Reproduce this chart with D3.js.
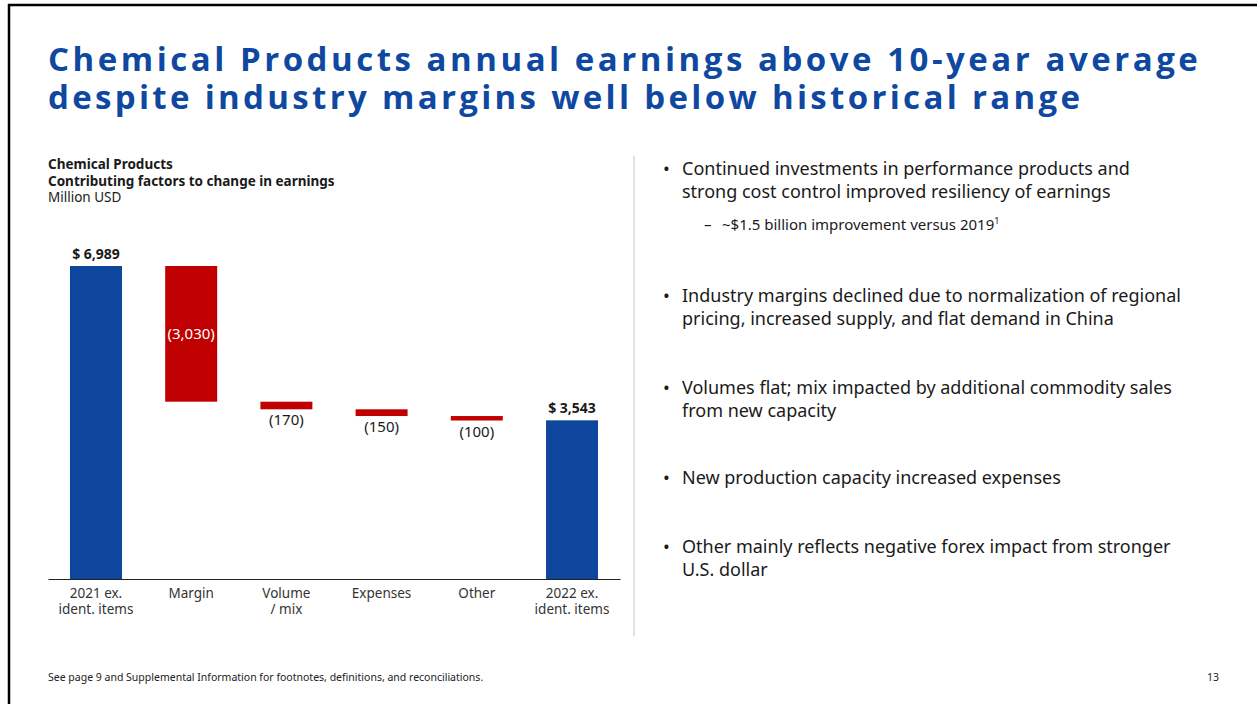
<!DOCTYPE html>
<html>
<head>
<meta charset="utf-8">
<script src="https://cdn.jsdelivr.net/npm/d3@7"></script>
<style>
  body { margin: 0; background: #fff; }
  svg { display: block; font-family: "Noto Sans", sans-serif; }
</style>
</head>
<body>
<div id="chart"></div>
<script>
// slide data
var categories = ["2021 ex.|ident. items", "Margin", "Volume|/ mix", "Expenses", "Other", "2022 ex.|ident. items"];
var kinds = ["total", "delta", "delta", "delta", "delta", "total"];
var values = [6989, -3030, -170, -150, -100, 3543];
var valueLabels = ["$ 6,989", "(3,030)", "(170)", "(150)", "(100)", "$ 3,543"];

var titleLines = ["Chemical Products annual earnings above 10-year average",
                  "despite industry margins well below historical range"];
var chartHeader = ["Chemical Products", "Contributing factors to change in earnings", "Million USD"];

var bullets = [
  {lines: ["Continued investments in performance products and", "strong cost control improved resiliency of earnings"], y: 175},
  {lines: ["Industry margins declined due to normalization of regional", "pricing, increased supply, and flat demand in China"], y: 302},
  {lines: ["Volumes flat; mix impacted by additional commodity sales", "from new capacity"], y: 394},
  {lines: ["New production capacity increased expenses"], y: 484},
  {lines: ["Other mainly reflects negative forex impact from stronger", "U.S. dollar"], y: 553}
];
var subBullet = {text: "~$1.5 billion improvement versus 2019", sup: "1", y: 230};
var footer = "See page 9 and Supplemental Information for footnotes, definitions, and reconciliations.";
var pageNum = "13";

var W = 1257, H = 704;
var BLUE = "#0D469C", RED = "#C00000", TITLE = "#0F48A0", TXT = "#1a1a1a";

var svg = d3.select("#chart").append("svg").attr("width", W).attr("height", H);

// slide frame (top and left edges)
svg.append("line").attr("x1", 8).attr("x2", W).attr("y1", 5).attr("y2", 5).attr("stroke", "#000").attr("stroke-width", 2.5);
svg.append("line").attr("x1", 9).attr("x2", 9).attr("y1", 4).attr("y2", H).attr("stroke", "#000").attr("stroke-width", 2.5);

// title, stretched with letter spacing to the slide width
titleLines.forEach(function (t, i) {
  var el = svg.append("text").attr("x", 48).attr("y", 71 + i * 37.5)
    .attr("fill", TITLE).attr("font-size", 33).attr("font-weight", 700)
    .style("font-family", "'Open Sans', sans-serif").text(t);
  var target = i == 0 ? 1150 : 1032;
  var len = el.node().getComputedTextLength();
  el.attr("letter-spacing", ((target - len) / (t.length - 1)).toFixed(2));
});

// chart header
chartHeader.forEach(function (t, i) {
  svg.append("text").attr("x", 48).attr("y", 169 + i * 16.5)
    .attr("font-size", 13.5).attr("font-weight", i < 2 ? 700 : 400)
    .attr("fill", TXT).text(t);
});

// waterfall
var x = d3.scaleBand().domain(categories).range([48, 620]).paddingInner(0.454).paddingOuter(0.231);
var y = d3.scaleLinear().domain([0, 6989]).range([579, 266]);

var running = 0;
var steps = values.map(function (v, i) {
  var s;
  if (kinds[i] == "total") { s = {y0: 0, y1: v}; running = v; }
  else { s = {y0: running + v, y1: running}; running += v; }
  s.cat = categories[i]; s.kind = kinds[i]; s.label = valueLabels[i];
  return s;
});

var g = svg.append("g");
g.selectAll("rect.bar").data(steps).join("rect").attr("class", "bar")
  .attr("x", function (d) { return x(d.cat); })
  .attr("width", x.bandwidth())
  .attr("y", function (d) { return y(d.y1); })
  .attr("height", function (d) { return y(d.y0) - y(d.y1); })
  .attr("fill", function (d) { return d.kind == "total" ? BLUE : RED; });

// value labels
g.selectAll("text.val").data(steps).join("text").attr("class", "val")
  .attr("x", function (d) { return x(d.cat) + x.bandwidth() / 2; })
  .attr("text-anchor", "middle")
  .attr("font-size", function (d) { return d.kind == "total" ? 14 : 15; })
  .attr("font-weight", function (d) { return d.kind == "total" ? 700 : 400; })
  .attr("fill", function (d, i) { return i == 1 ? "#fff" : TXT; })
  .attr("y", function (d, i) {
    if (d.kind == "total") return y(d.y1) - 7;
    if (i == 1) return (y(d.y0) + y(d.y1)) / 2 + 5;
    return y(d.y0) + 16;
  })
  .text(function (d) { return d.label; });

// axis
var axis = d3.axisBottom(x).tickSize(0).tickPadding(0).tickFormat("");
var ax = svg.append("g").attr("transform", "translate(0,579)").call(axis);
ax.select(".domain").attr("stroke", "#222").attr("stroke-width", 1.2);
ax.selectAll(".tick").each(function (d) {
  var parts = d.split("|");
  var t = d3.select(this).append("text").attr("fill", "#333").attr("font-size", 13.5)
    .style("font-family", "'Noto Sans', sans-serif").attr("text-anchor", "middle");
  parts.forEach(function (p, k) {
    t.append("tspan").attr("x", 0).attr("y", 19 + k * 16).text(p);
  });
});

// divider
svg.append("line").attr("x1", 634).attr("x2", 634).attr("y1", 156).attr("y2", 636)
  .attr("stroke", "#d9d9d9").attr("stroke-width", 1.5);

// bullets
var bg = svg.append("g").attr("font-size", 18).attr("fill", TXT);
bullets.forEach(function (b) {
  bg.append("text").attr("x", 663).attr("y", b.y).text("\u2022");
  b.lines.forEach(function (l, k) {
    bg.append("text").attr("x", 682).attr("y", b.y + k * 23).text(l);
  });
});
var sb = svg.append("text").attr("font-size", 15).attr("fill", TXT).attr("y", subBullet.y);
sb.append("tspan").attr("x", 704).text("\u2013");
sb.append("tspan").attr("x", 722).text(subBullet.text);
sb.append("tspan").attr("font-size", 9).attr("dy", -6).text(subBullet.sup);

// footer
svg.append("text").attr("x", 48).attr("y", 681).attr("font-size", 10.5).attr("fill", "#222")
  .text(footer);
svg.append("text").attr("x", 1219).attr("y", 681).attr("font-size", 10.5).attr("fill", "#222")
  .attr("text-anchor", "end").text(pageNum);
</script>
</body>
</html>
